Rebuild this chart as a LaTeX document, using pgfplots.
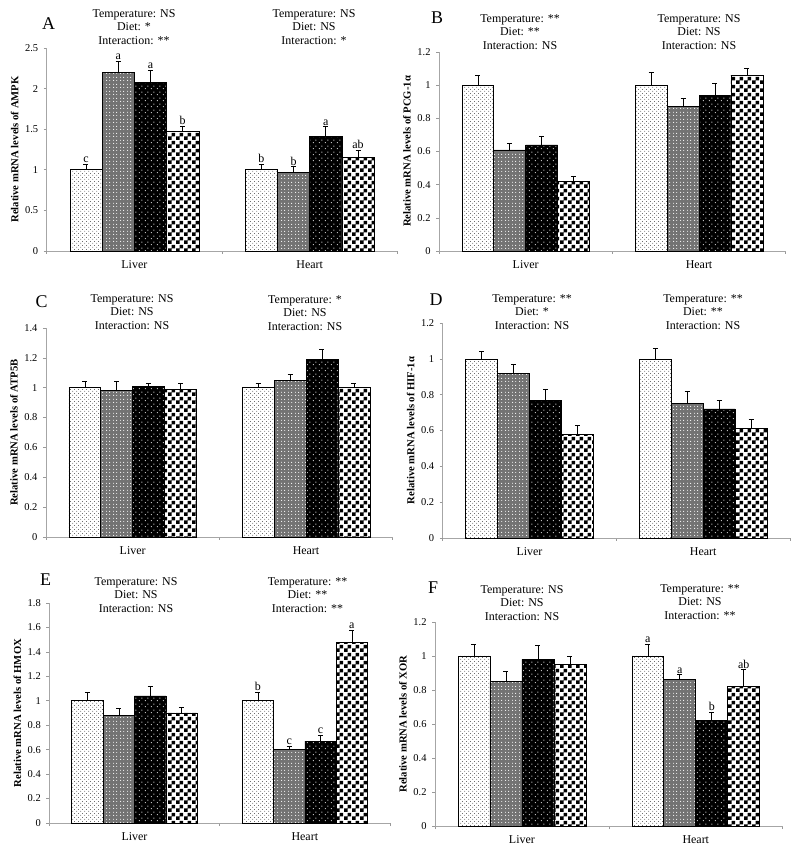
\documentclass[border=0pt]{standalone}
\usepackage{pgfplots}
\pgfplotsset{compat=1.18}
\usepackage{pgfplotstable}
\usepackage{fontspec}
\setmainfont{Liberation Serif}
\usetikzlibrary{patterns}

\pgfdeclarepatternformonly{lightdots}{\pgfpoint{0bp}{0bp}}{\pgfpoint{4bp}{4bp}}{\pgfpoint{4bp}{4bp}}{%
  \pgfpathcircle{\pgfpoint{1bp}{1bp}}{0.45bp}\pgfpathcircle{\pgfpoint{3bp}{3bp}}{0.45bp}\pgfusepath{fill}}
\pgfdeclarepatternformonly{whitedots}{\pgfpoint{0bp}{0bp}}{\pgfpoint{6bp}{6bp}}{\pgfpoint{6bp}{6bp}}{%
  \pgfpathcircle{\pgfpoint{1.5bp}{1.5bp}}{0.6bp}\pgfpathcircle{\pgfpoint{4.5bp}{4.5bp}}{0.6bp}\pgfusepath{fill}}
\pgfdeclarepatternformonly{whitecross}{\pgfpoint{0bp}{0bp}}{\pgfpoint{7bp}{7bp}}{\pgfpoint{7bp}{7bp}}{%
  \pgfpathrectangle{\pgfpoint{1.2bp}{1.6bp}}{\pgfpoint{1.2bp}{0.4bp}}%
  \pgfpathrectangle{\pgfpoint{1.6bp}{1.2bp}}{\pgfpoint{0.4bp}{1.2bp}}%
  \pgfpathrectangle{\pgfpoint{4.7bp}{5.1bp}}{\pgfpoint{1.2bp}{0.4bp}}%
  \pgfpathrectangle{\pgfpoint{5.1bp}{4.7bp}}{\pgfpoint{0.4bp}{1.2bp}}%
  \pgfpathrectangle{\pgfpoint{4.9bp}{1.4bp}}{\pgfpoint{0.8bp}{0.8bp}}%
  \pgfpathrectangle{\pgfpoint{1.4bp}{4.9bp}}{\pgfpoint{0.8bp}{0.8bp}}%
  \pgfusepath{fill}}
\pgfdeclarepatternformonly{checker}{\pgfpoint{0bp}{0bp}}{\pgfpoint{8bp}{8bp}}{\pgfpoint{8bp}{8bp}}{%
  \pgfpathrectangle{\pgfpoint{0bp}{0bp}}{\pgfpoint{4bp}{4bp}}%
  \pgfpathrectangle{\pgfpoint{4bp}{4bp}}{\pgfpoint{4bp}{4bp}}\pgfusepath{fill}}

\pgfplotsset{
  panel/.style={
    scale only axis, xmin=-0.5, xmax=1.5, ymin=0, clip=false,
    axis x line*=bottom, axis y line*=left,
    axis line style={black!35, line width=0.7pt},
    xtick={-0.5,0.5,1.5}, xticklabels={},
    extra x ticks={0,1}, extra x tick labels={Liver,Heart},
    extra x tick style={major tick length=0pt, xticklabel style={font=\fontsize{12}{14}\selectfont, yshift=-6bp}},
    tick align=outside, major tick length=3bp,
    tick style={black!40, line width=0.6pt},
    ytick pos=left,
    yticklabel style={font=\fontsize{10.5}{12}\selectfont, xshift=-2bp},
    /pgf/number format/assume math mode=true,
    every axis y label/.style={at={(rel axis cs:0,0.5)}, rotate=90, anchor=center, yshift=32bp,
      font=\bfseries\fontsize{10.7}{12}\selectfont},
  },
  barbase/.style={ybar, bar width=0.184, draw=black, line width=0.6pt},
  s1/.style={barbase, bar shift=-0.276, preaction={fill=white}, pattern=lightdots, pattern color=black},
  s2/.style={barbase, bar shift=-0.092, preaction={fill=black!55}, pattern=whitecross, pattern color=white},
  s3/.style={barbase, bar shift=0.092, preaction={fill=black}, pattern=whitedots, pattern color=white},
  s4/.style={barbase, bar shift=0.276, preaction={fill=white}, pattern=checker, pattern color=black},
  err/.style={draw=none, mark=none, forget plot,
    error bars/y dir=plus, error bars/y explicit,
    error bars/error bar style={draw=black, line width=0.6pt, solid},
    error bars/error mark options={rotate=90, draw=black, mark size=2.5bp, line width=0.6pt}},
  lab/.style={draw=none, forget plot, nodes near coords, point meta=explicit symbolic,
    nodes near coords style={anchor=south, inner sep=1bp, font=\fontsize{12}{12}\selectfont}},
}

\newcommand{\fourbars}[1]{%
  \addplot[s1] table[x=g, y=v1]{#1};
  \addplot[s2] table[x=g, y=v2]{#1};
  \addplot[s3] table[x=g, y=v3]{#1};
  \addplot[s4] table[x=g, y=v4]{#1};
  \addplot[err] table[x expr=\thisrow{g}-0.276, y=v1, y error=e1]{#1};
  \addplot[err] table[x expr=\thisrow{g}-0.092, y=v2, y error=e2]{#1};
  \addplot[err] table[x expr=\thisrow{g}+0.092, y=v3, y error=e3]{#1};
  \addplot[err] table[x expr=\thisrow{g}+0.276, y=v4, y error=e4]{#1};
}
\newcommand{\fourlabels}[1]{%
  \addplot[lab] table[x expr=\thisrow{g}-0.276, y expr=\thisrow{v1}+\thisrow{e1}, meta=l1]{#1};
  \addplot[lab] table[x expr=\thisrow{g}-0.092, y expr=\thisrow{v2}+\thisrow{e2}, meta=l2]{#1};
  \addplot[lab] table[x expr=\thisrow{g}+0.092, y expr=\thisrow{v3}+\thisrow{e3}, meta=l3]{#1};
  \addplot[lab] table[x expr=\thisrow{g}+0.276, y expr=\thisrow{v4}+\thisrow{e4}, meta=l4]{#1};
}

% columns: group (0 Liver, 1 Heart), value, error, letter for the four treatments
\pgfplotstableread{
g v1 e1 l1 v2 e2 l2 v3 e3 l3 v4 e4 l4
0 1.00 0.07 c 2.20 0.14 a 2.08 0.15 a 1.47 0.07 b
1 1.00 0.07 b 0.97 0.07 b 1.41 0.12 a 1.15 0.09 ab
}\tA
\pgfplotstableread{
g v1 e1 v2 e2 v3 e3 v4 e4
0 1.00 0.06 0.61 0.04 0.64 0.05 0.42 0.03
1 1.00 0.08 0.87 0.05 0.94 0.07 1.06 0.04
}\tB
\pgfplotstableread{
g v1 e1 v2 e2 v3 e3 v4 e4
0 1.00 0.04 0.98 0.06 1.01 0.02 0.99 0.04
1 1.00 0.03 1.05 0.04 1.19 0.07 1.00 0.03
}\tC
\pgfplotstableread{
g v1 e1 v2 e2 v3 e3 v4 e4
0 1.00 0.04 0.92 0.05 0.77 0.06 0.58 0.05
1 1.00 0.06 0.75 0.07 0.72 0.05 0.61 0.05
}\tD
\pgfplotstableread{
g v1 e1 l1 v2 e2 l2 v3 e3 l3 v4 e4 l4
0 1.00 0.07 {} 0.88 0.06 {} 1.04 0.08 {} 0.90 0.05 {}
1 1.00 0.07 b 0.60 0.03 c 0.67 0.05 c 1.48 0.10 a
}\tE
\pgfplotstableread{
g v1 e1 l1 v2 e2 l2 v3 e3 l3 v4 e4 l4
0 1.00 0.07 {} 0.85 0.06 {} 0.98 0.08 {} 0.95 0.05 {}
1 1.00 0.07 a 0.86 0.03 a 0.62 0.05 b 0.82 0.10 ab
}\tF

\begin{document}
\begin{tikzpicture}
\path[use as bounding box] (0,0) rectangle (798bp,852bp);

% ---------- A ----------
\begin{axis}[panel, at={(46.7bp,601bp)}, anchor=south west, width=350.6bp, height=203bp,
  ymax=2.5, ytick={0,0.5,1,1.5,2,2.5}, ylabel={Relative mRNA levels of AMPK}]
\fourbars{\tA}
\fourlabels{\tA}
\end{axis}

% ---------- B ----------
\begin{axis}[panel, at={(439bp,601bp)}, anchor=south west, width=346.7bp, height=199bp,
  ymax=1.2, ytick={0,0.2,0.4,0.6,0.8,1,1.2}, ylabel={Relative mRNA levels of PCG-1α}]
\fourbars{\tB}
\end{axis}

% ---------- C ----------
\begin{axis}[panel, at={(46bp,315bp)}, anchor=south west, width=346.7bp, height=209bp,
  ymax=1.4, ytick={0,0.2,0.4,0.6,0.8,1,1.2,1.4}, ylabel={Relative mRNA levels of ATP5B}]
\fourbars{\tC}
\end{axis}

% ---------- D ----------
\begin{axis}[panel, at={(442.7bp,314bp)}, anchor=south west, width=347.3bp, height=215bp,
  ymax=1.2, ytick={0,0.2,0.4,0.6,0.8,1,1.2}, ylabel={Relative mRNA levels of HIF-1α}]
\fourbars{\tD}
\end{axis}

% ---------- E ----------
\begin{axis}[panel, at={(49.3bp,29bp)}, anchor=south west, width=340.7bp, height=220bp,
  ymax=1.8, ytick={0,0.2,0.4,0.6,0.8,1,1.2,1.4,1.6,1.8}, ylabel={Relative mRNA levels of HMOX}]
\fourbars{\tE}
\fourlabels{\tE}
\end{axis}

% ---------- F ----------
\begin{axis}[panel, at={(435bp,26bp)}, anchor=south west, width=347.7bp, height=204bp,
  ymax=1.2, ytick={0,0.2,0.4,0.6,0.8,1,1.2}, ylabel={Relative mRNA levels of XOR}]
\fourbars{\tF}
\fourlabels{\tF}
\end{axis}

% ---------- panel letters ----------
\begin{scope}[every node/.style={font=\fontsize{18}{18}\selectfont, inner sep=0pt}]
\node at (48.5bp,828bp) {A};
\node at (437bp,834.5bp) {B};
\node at (41.5bp,550.3bp) {C};
\node at (436bp,552bp) {D};
\node at (45.5bp,272bp) {E};
\node at (433bp,264bp) {F};
\end{scope}

% ---------- statistics ----------
\begin{scope}[every node/.style={align=center, font=\fontsize{12}{13.3}\selectfont, inner sep=0pt}]
\node at (134bp,825bp) {Temperature: NS\\Diet: *\\Interaction: **};
\node at (314bp,825bp) {Temperature: NS\\Diet: NS\\Interaction: *};
\node at (520bp,820bp) {Temperature: **\\Diet: **\\Interaction: NS};
\node at (699bp,820bp) {Temperature: NS\\Diet: NS\\Interaction: NS};
\node at (132bp,540bp) {Temperature: NS\\Diet: NS\\Interaction: NS};
\node at (305bp,539bp) {Temperature: *\\Diet: NS\\Interaction: NS};
\node at (532bp,540bp) {Temperature: **\\Diet: *\\Interaction: NS};
\node at (703bp,540bp) {Temperature: **\\Diet: **\\Interaction: NS};
\node at (136bp,257bp) {Temperature: NS\\Diet: NS\\Interaction: NS};
\node at (307.5bp,257bp) {Temperature: **\\Diet: **\\Interaction: **};
\node at (522bp,249bp) {Temperature: NS\\Diet: NS\\Interaction: NS};
\node at (700bp,250bp) {Temperature: **\\Diet: NS\\Interaction: **};
\end{scope}
\end{tikzpicture}
\end{document}
